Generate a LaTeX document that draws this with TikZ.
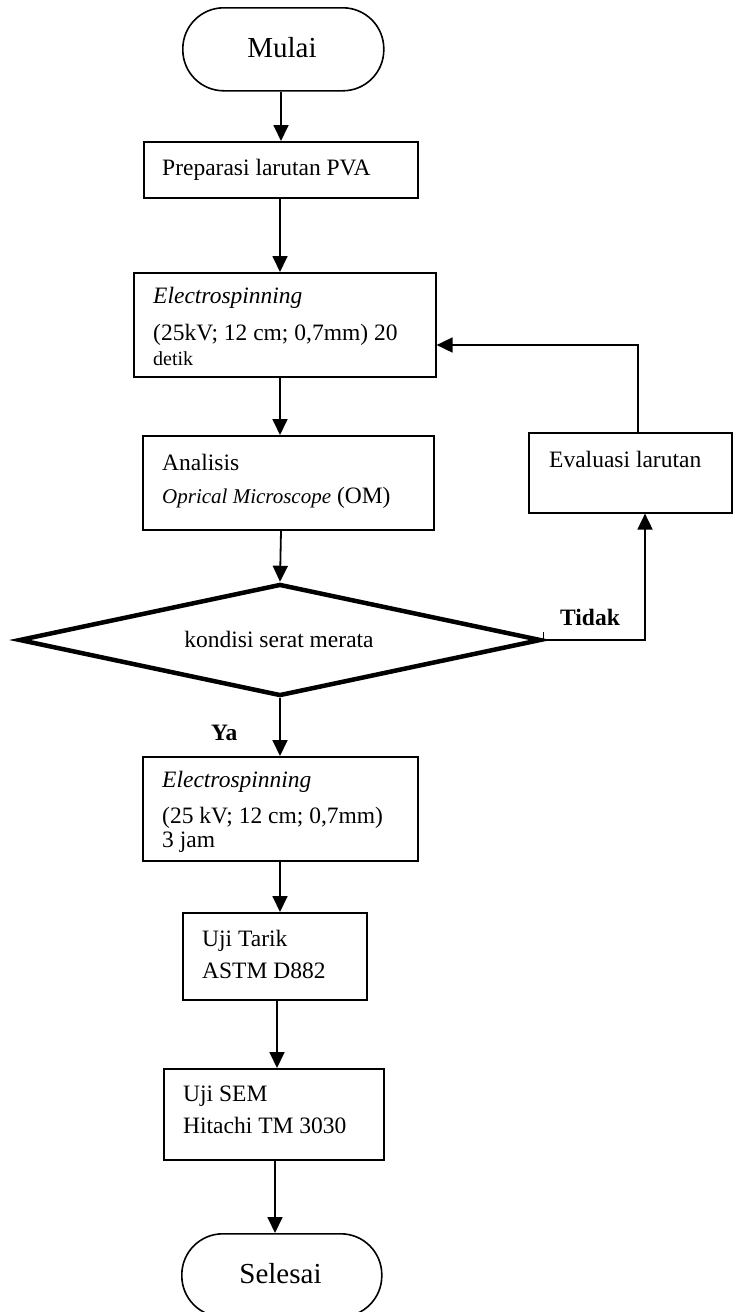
\documentclass[tikz,border=0pt]{standalone}
\usepackage{fontspec}
\setmainfont{Liberation Serif}
\usetikzlibrary{arrows.meta,shapes.geometric}
\begin{document}
\begin{tikzpicture}[x=1pt,y=-1pt,
  box/.style={draw,line width=1.6pt,rectangle,inner sep=0pt,anchor=north west},
  term/.style={draw,line width=1.6pt,rectangle,rounded corners=41pt,inner sep=0pt,anchor=north west},
  txt/.style={anchor=base west,inner sep=0pt,font=\fontsize{23.5}{28}\selectfont},
  small/.style={anchor=base west,inner sep=0pt,font=\fontsize{20}{24}\selectfont},
  big/.style={anchor=base,inner sep=0pt,font=\fontsize{29}{34}\selectfont},
  arr/.style={line width=1.8pt,-{Triangle[length=16pt,width=15pt]}},
  ln/.style={line width=1.8pt}]
\useasboundingbox (0,0) rectangle (732,1312);
% column coordinates
\coordinate (xa) at (281,0);
\coordinate (xb) at (280,0);
\coordinate (xc) at (277,0);
\coordinate (xd) at (275,0);
\coordinate (xe) at (645,0);
\coordinate (xf) at (638,0);
\coordinate (yl) at (0,345);
% terminals
\node[term,minimum width=201pt,minimum height=83pt] (mulai) at (182,7) {};
\node[big] (mulaiT) at (282,57) {Mulai};
\node[term,minimum width=200pt,minimum height=83pt] (selesai) at (181,1233) {};
\node[big] (selesaiT) at (280.5,1283) {Selesai};
% boxes
\node[box,minimum width=274pt,minimum height=56pt] (prep) at (143,141) {};
\node[txt] (prepT) at (162,175) {Preparasi larutan PVA};

\node[box,minimum width=302pt,minimum height=104pt] (es1) at (133,272) {};
\node[txt] (es1a) at (153,303) {\itshape Electrospinning};
\node[txt] (es1b) at (153,340) {(25kV; 12 cm; 0,7mm) 20};
\node[small] (es1c) at (153,365) {detik};

\node[box,minimum width=291pt,minimum height=94pt] (om) at (142,435) {};
\node[txt] (omA) at (162,470) {Analisis};
\node[txt] (omB) at (162,503) {{\fontsize{21}{25}\selectfont\itshape Oprical Microscope} (OM)};

\node[box,minimum width=203pt,minimum height=80pt] (eval) at (528,432) {};
\node[txt] (evalT) at (549,467) {Evaluasi larutan};

\node[diamond,draw,line width=4.5pt,minimum width=522pt,minimum height=112pt,inner sep=0pt] (dec) at (280,640) {};
\node[anchor=base,inner sep=0pt,font=\fontsize{23.5}{28}\selectfont] (decT) at (279,647) {kondisi serat merata};

\node[anchor=base,inner sep=0pt,font=\fontsize{23.5}{28}\selectfont\bfseries] (tidak) at (590,625) {Tidak};
\node[txt,font=\fontsize{23.5}{28}\selectfont\bfseries] (ya) at (211,740) {Ya};

\node[box,minimum width=275pt,minimum height=104pt] (es2) at (142,756) {};
\node[txt] (es2a) at (162,787) {\itshape Electrospinning};
\node[txt] (es2b) at (162,823) {(25 kV; 12 cm; 0,7mm)};
\node[txt] (es2c) at (162,847) {3 jam};

\node[box,minimum width=184pt,minimum height=87pt] (tarik) at (182,912) {};
\node[txt] (tarikA) at (202,946) {Uji Tarik};
\node[txt] (tarikB) at (202,978) {ASTM D882};

\node[box,minimum width=220pt,minimum height=91pt] (sem) at (163,1068) {};
\node[txt] (semA) at (183,1101) {Uji SEM};
\node[txt] (semB) at (183,1133) {Hitachi TM 3030};
% connectors
\draw[arr] (mulai.south -| xa) -- (prep.north -| xa);
\draw[arr] (prep.south -| xb) -- (es1.north -| xb);
\draw[arr] (es1.south -| xb) -- (om.north -| xb);
\draw[arr] (om.south -| xa) -- (dec.north);
\draw[arr] (dec.south) -- (es2.north -| dec.south);
\draw[arr] (es2.south -| xb) -- (tarik.north -| xb);
\draw[arr] (tarik.south -| xc) -- (sem.north -| xc);
\draw[arr] (sem.south -| xd) -- (selesai.north -| xd);
\draw[arr] (dec.east) -| (eval.south -| xe);
\draw[line width=1pt] (dec.east) -- ++(0,-8);
\draw[arr] (eval.north -| xf) |- (es1.east |- yl);
\end{tikzpicture}
\end{document}
